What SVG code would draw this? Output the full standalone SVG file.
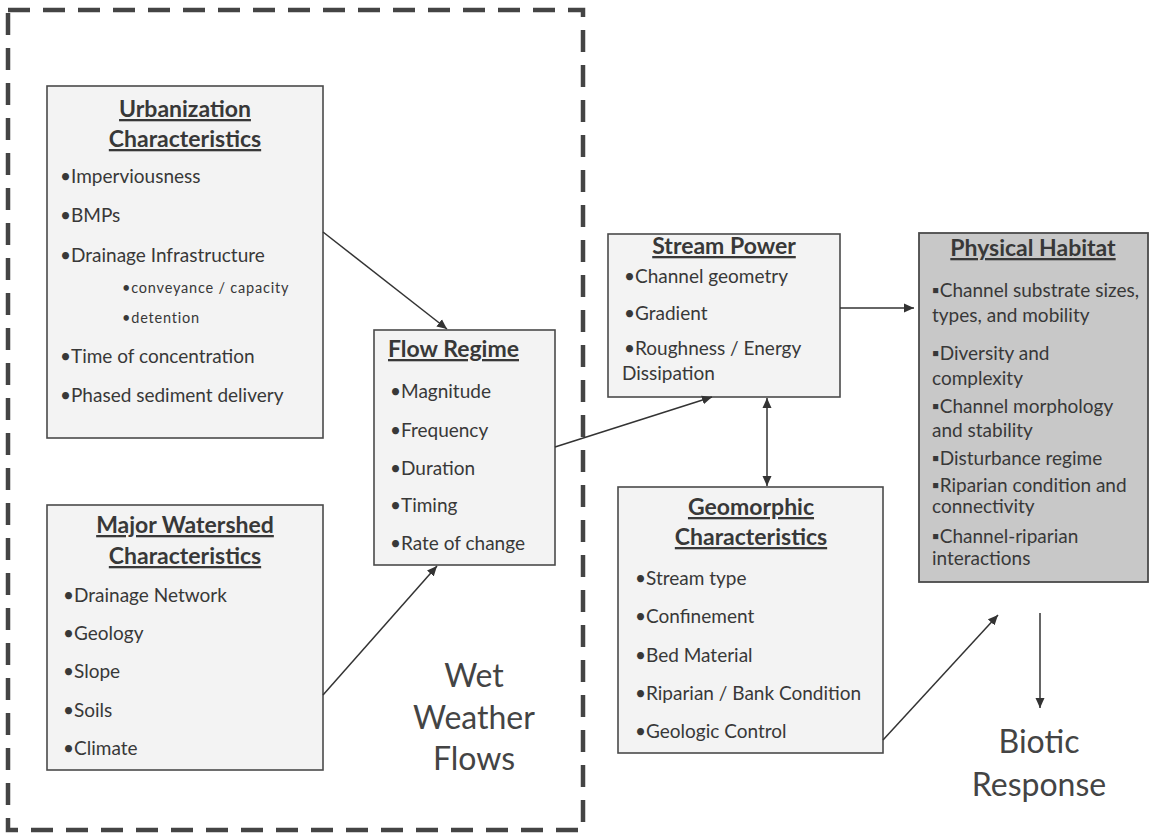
<svg xmlns="http://www.w3.org/2000/svg" width="1154" height="838" viewBox="0 0 1154 838">
<defs>
<style>
.box{fill:#f3f3f3;stroke:#4a4a4a;stroke-width:1.6}
.hab{fill:#c8c8c8;stroke:#4a4a4a;stroke-width:1.8}
.t{font-family:Lato,"Liberation Sans",sans-serif;font-weight:bold;font-size:23px;fill:#383838;text-decoration:underline}
.i{font-family:Lato,"Liberation Sans",sans-serif;font-size:19px;fill:#383838}
.s{font-family:Lato,"Liberation Sans",sans-serif;font-size:14.5px;fill:#383838;letter-spacing:0.8px}
.big{font-family:Lato,"Liberation Sans",sans-serif;font-size:32px;fill:#444}
.c{stroke:#333;stroke-width:1.5;fill:none}
</style>
<marker id="ah" viewBox="0 0 10 10" refX="10" refY="5" markerWidth="10" markerHeight="10" markerUnits="userSpaceOnUse" orient="auto-start-reverse">
<path d="M0,0.5 L10,5 L0,9.5 Z" fill="#333"/>
</marker>
</defs>
<rect width="1154" height="838" fill="#ffffff"/>
<g id="wet-weather-region">
<rect x="8" y="10" width="575" height="820" fill="none" stroke="#444" stroke-width="4.5" stroke-dasharray="22 13"/>
<text class="big" text-anchor="middle" x="474" y="687">Wet</text>
<text class="big" text-anchor="middle" x="474" y="729">Weather</text>
<text class="big" text-anchor="middle" x="474" y="770">Flows</text>
</g>
<g id="urbanization">
<rect class="box" x="47" y="86" width="276" height="352"/>
<text class="t" text-anchor="middle" x="185" y="117">Urbanization</text>
<text class="t" text-anchor="middle" x="185" y="147">Characteristics</text>
<text class="i" x="60" y="183">•Imperviousness</text>
<text class="i" x="60" y="222">•BMPs</text>
<text class="i" x="60" y="262">•Drainage Infrastructure</text>
<text class="s" x="122" y="293">•conveyance / capacity</text>
<text class="s" x="122" y="323">•detention</text>
<text class="i" x="60" y="363">•Time of concentration</text>
<text class="i" x="60" y="402">•Phased sediment delivery</text>
</g>
<g id="major-watershed">
<rect class="box" x="47" y="505" width="276" height="265"/>
<text class="t" text-anchor="middle" x="185" y="533">Major Watershed</text>
<text class="t" text-anchor="middle" x="185" y="564">Characteristics</text>
<text class="i" x="63" y="602">•Drainage Network</text>
<text class="i" x="63" y="640">•Geology</text>
<text class="i" x="63" y="678">•Slope</text>
<text class="i" x="63" y="717">•Soils</text>
<text class="i" x="63" y="755">•Climate</text>
</g>
<g id="flow-regime">
<rect class="box" x="374" y="330" width="181" height="235"/>
<text class="t" x="388" y="357">Flow Regime</text>
<text class="i" x="390" y="398">•Magnitude</text>
<text class="i" x="390" y="437">•Frequency</text>
<text class="i" x="390" y="475">•Duration</text>
<text class="i" x="390" y="512">•Timing</text>
<text class="i" x="390" y="550">•Rate of change</text>
</g>
<g id="stream-power">
<rect class="box" x="608" y="234" width="232" height="163"/>
<text class="t" text-anchor="middle" x="724" y="254">Stream Power</text>
<text class="i" x="624" y="283">•Channel geometry</text>
<text class="i" x="624" y="320">•Gradient</text>
<text class="i" x="624" y="355">•Roughness / Energy</text>
<text class="i" x="622" y="380">Dissipation</text>
</g>
<g id="geomorphic">
<rect class="box" x="618" y="487" width="265" height="266"/>
<text class="t" text-anchor="middle" x="751" y="515">Geomorphic</text>
<text class="t" text-anchor="middle" x="751" y="545">Characteristics</text>
<text class="i" x="635" y="585">•Stream type</text>
<text class="i" x="635" y="623">•Confinement</text>
<text class="i" x="635" y="662">•Bed Material</text>
<text class="i" x="635" y="700">•Riparian / Bank Condition</text>
<text class="i" x="635" y="738">•Geologic Control</text>
</g>
<g id="physical-habitat">
<rect class="hab" x="919" y="233" width="229" height="349"/>
<text class="t" text-anchor="middle" x="1033" y="256">Physical Habitat</text>
<text class="i" x="932" y="297">▪Channel substrate sizes,</text>
<text class="i" x="932" y="322">types, and mobility</text>
<text class="i" x="932" y="360">▪Diversity and</text>
<text class="i" x="932" y="385">complexity</text>
<text class="i" x="932" y="413">▪Channel morphology</text>
<text class="i" x="932" y="437">and stability</text>
<text class="i" x="932" y="465">▪Disturbance regime</text>
<text class="i" x="932" y="492">▪Riparian condition and</text>
<text class="i" x="932" y="513">connectivity</text>
<text class="i" x="932" y="543">▪Channel-riparian</text>
<text class="i" x="932" y="565">interactions</text>
</g>
<g id="biotic-response">
<text class="big" text-anchor="middle" x="1039" y="753">Biotic</text>
<text class="big" text-anchor="middle" x="1039" y="796">Response</text>
</g>
<g id="connectors">
<line class="c" x1="323" y1="232" x2="447" y2="329" marker-end="url(#ah)"/>
<line class="c" x1="323" y1="695" x2="437" y2="566" marker-end="url(#ah)"/>
<line class="c" x1="555" y1="447" x2="712" y2="397" marker-end="url(#ah)"/>
<line class="c" x1="840" y1="308" x2="914" y2="308" marker-end="url(#ah)"/>
<line class="c" x1="767" y1="398" x2="767" y2="486" marker-start="url(#ah)" marker-end="url(#ah)"/>
<line class="c" x1="883" y1="740" x2="998" y2="615" marker-end="url(#ah)"/>
<line class="c" x1="1040" y1="613" x2="1040" y2="708" marker-end="url(#ah)"/>
</g>
</svg>
